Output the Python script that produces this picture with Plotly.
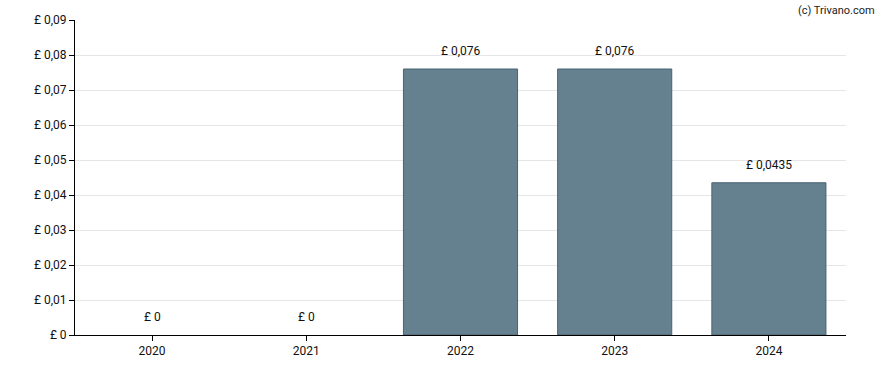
import plotly.graph_objects as go

years = ["2020", "2021", "2022", "2023", "2024"]
values = [0, 0, 0.076, 0.076, 0.0435]
value_labels = ["£ 0", "£ 0", "£ 0,076", "£ 0,076", "£ 0,0435"]
ytick_vals = [0, 0.01, 0.02, 0.03, 0.04, 0.05, 0.06, 0.07, 0.08, 0.09]
ytick_text = ["£ 0", "£ 0,01", "£ 0,02", "£ 0,03", "£ 0,04", "£ 0,05", "£ 0,06", "£ 0,07", "£ 0,08", "£ 0,09"]

fig = go.Figure()
fig.add_trace(go.Bar(
    x=years, y=values,
    marker=dict(color="#65808f",
                line=dict(color="#4a6272", width=[1 if v > 0 else 0 for v in values])),
    width=0.74,
    hoverinfo="skip",
))

# category axis: annotation x is the category index
for i, (v, t) in enumerate(zip(values, value_labels)):
    fig.add_annotation(x=i, y=v, text=t, showarrow=False, yanchor="bottom", yshift=9,
                       font=dict(family="Roboto", size=12, color="#111111"))

fig.add_annotation(xref="paper", yref="paper", x=1.04, y=1.0, yshift=10, xanchor="right", yanchor="middle",
                   text="(c) Trivano.com", showarrow=False,
                   font=dict(family="Roboto", size=11, color="#222222"))

fig.update_layout(
    width=888, height=370,
    margin=dict(l=75, r=42, t=20, b=35),
    plot_bgcolor="white", paper_bgcolor="white",
    showlegend=False,
    font=dict(family="Roboto", size=12, color="#111111"),
)
fig.update_xaxes(type="category", range=[-0.5, 4.5], showline=True, linecolor="black", linewidth=1,
                 ticks="outside", ticklen=5, tickcolor="black", showgrid=False, tickfont=dict(size=12),
                 automargin=False)
fig.update_yaxes(range=[0, 0.09], tickvals=ytick_vals, ticktext=ytick_text, showline=True,
                 linecolor="black", linewidth=1, ticks="outside", ticklen=5, tickcolor="black",
                 showgrid=True, gridcolor="#e6e6e6", gridwidth=1, zeroline=False, tickfont=dict(size=12),
                 automargin=False)

fig.write_html("out.html", config={"displayModeBar": False},
               post_script="document.body.style.margin='0';")
